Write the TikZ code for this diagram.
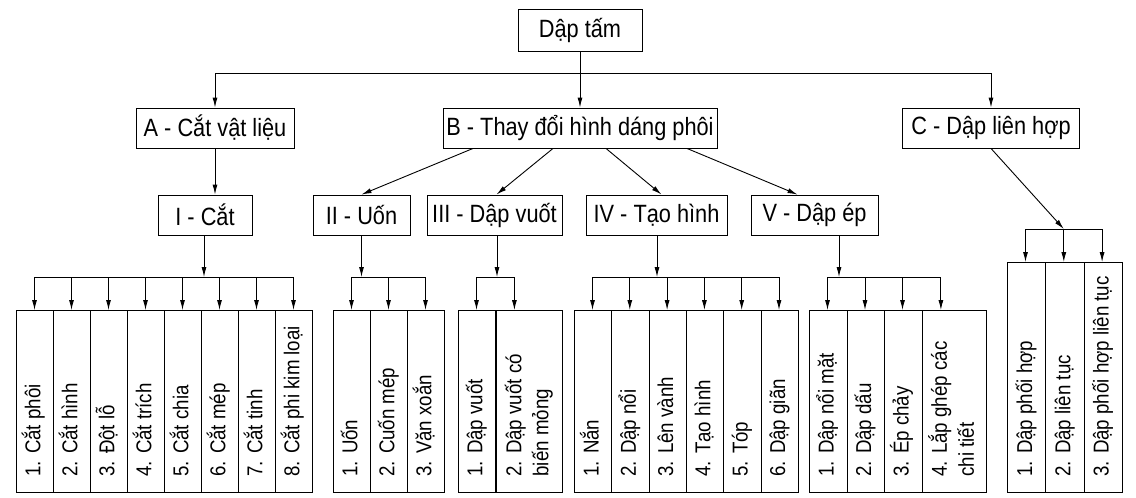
\documentclass[tikz,border=0pt]{standalone}
\usepackage{fontspec}
\setmainfont{Liberation Sans}[FakeStretch=0.87]
\usetikzlibrary{arrows.meta}
\newcommand\lf[2][150pt]{\rotatebox{90}{\makebox[#1][l]{\begin{tabular}{@{}l@{}}#2\end{tabular}}}}

\begin{document}
\begin{tikzpicture}[
    x=1pt, y=-1pt,
    line width=0.9pt,
    box/.style={draw, minimum height=40, inner sep=0, font=\fontsize{25}{30}\selectfont},
    leaf/.style={draw, anchor=north west, minimum width=37, minimum height=182, inner sep=0, font=\fontsize{21.5}{27}\selectfont},
    arr/.style={-{Latex[length=10pt,width=5pt]}}
  ]
  \useasboundingbox (0,0) rectangle (1136,498);
  % top levels
  \node[box, minimum width=124, minimum height=42] (tam) at (580,30) {Dập tấm};
  \node[box, minimum width=158] (cat) at (215,128) {A - Cắt vật liệu};
  \node[box, minimum width=274] (thay) at (580,128) {B - Thay đổi hình dáng phôi};
  \node[box, minimum width=177] (lien) at (991,128) {C - Dập liên hợp};
  \node[box, minimum width=94] (cut) at (205,215) {I - Cắt};
  \node[box, minimum width=97] (uon) at (361.5,215) {II - Uốn};
  \node[box, minimum width=135] (vuot) at (494.5,215) {III - Dập vuốt};
  \node[box, minimum width=141] (tao) at (656.5,215) {IV - Tạo hình};
  \node[box, minimum width=127] (ep) at (814.5,215) {V - Dập ép};
  \coordinate (hub) at (580,73);
  \draw (cat.north |- hub) -- (lien.north |- hub);
  \draw[arr] (cat.north |- hub) -- (cat.north);
  \draw[arr] (lien.north |- hub) -- (lien.north);
  \draw[arr] (tam) -- (thay);
  \draw[arr] (cat.south) -- (cat.south |- cut.north);
  \draw[arr] ([xshift=-107]thay.south) -- (uon.north);
  \draw[arr] ([xshift=-27]thay.south) -- ([xshift=2]vuot.north);
  \draw[arr] ([xshift=26]thay.south) -- ([xshift=5]tao.north);
  \draw[arr] ([xshift=107]thay.south) -- ([xshift=-17]ep.north);

  % leaves
  \foreach \t [count=\i] in {1. Cắt phôi,2. Cắt hình,3. Đột lỗ,4. Cắt trích,5. Cắt chia,6. Cắt mép,7. Cắt tinh,8. Cắt phi kim loại}
    \node[leaf] (a\i) at ({16+37*(\i-1)},310) {\lf{\t}};
  \foreach \t [count=\i] in {1. Uốn,2. Cuốn mép,3. Vặn xoắn}
    \node[leaf] (b\i) at ({333+37*(\i-1)},310) {\lf{\t}};
  \node[leaf] (c1) at (458,310) {\lf{1. Dập vuốt}};
  \node[leaf, minimum width=66] (c2) at (c1.north east) {\lf{2. Dập vuốt có\\biến mỏng}};
  \foreach \t [count=\i] in {1. Nắn,2. Dập nổi,3. Lên vành,4. Tạo hình,5. Tóp,6. Dập giãn}
    \node[leaf, minimum width=37.3] (d\i) at ({574+37.3*(\i-1)},310) {\lf{\t}};
  \foreach \t [count=\i] in {1. Dập nổi mặt,2. Dập dấu,3. Ép chảy}
    \node[leaf, minimum width=37.5] (e\i) at ({809+37.5*(\i-1)},310) {\lf{\t}};
  \node[leaf, minimum width=64] (e4) at (e3.north east) {\lf{4. Lắp ghép các\\chi tiết}};
  \foreach \t [count=\i] in {1. Dập phối hợp,2. Dập liên tục,3. Dập phối hợp liên tục}
    \node[leaf, minimum width=38.3, minimum height=230] (f\i) at ({1007+38.3*(\i-1)},262) {\lf[198pt]{\t}};

  % brackets
  \coordinate (ka) at (204,277);
  \coordinate (kb) at (361.5,277);
  \coordinate (kc) at (497,277);
  \coordinate (kd) at (657,277);
  \coordinate (ke) at (839,277);
  \draw[arr] (cut.south -| ka) -- (ka);
  \draw[arr] (uon.south -| kb) -- (kb);
  \draw[arr] (vuot.south -| kc) -- (kc);
  \draw[arr] (tao.south -| kd) -- (kd);
  \draw[arr] (ep.south -| ke) -- (ke);
  \foreach \g/\n/\k in {a/8/ka,b/3/kb,c/2/kc,d/6/kd,e/4/ke,f/3/kf} {
    \foreach \i in {1,...,\n}
      \path ([xshift=18.5]\g\i.north west) coordinate (t\g\i);
  }
  \coordinate (kf) at (tf2 |- 0,229);
  \draw[arr] (lien.south) -- (kf);
  \foreach \g/\n/\k in {a/8/ka,b/3/kb,c/2/kc,d/6/kd,e/4/ke,f/3/kf} {
    \draw (t\g1 |- \k) -- (t\g\n |- \k);
    \foreach \i in {1,...,\n}
      \draw[arr] (t\g\i |- \k) -- (t\g\i);
  }
\end{tikzpicture}
\end{document}
